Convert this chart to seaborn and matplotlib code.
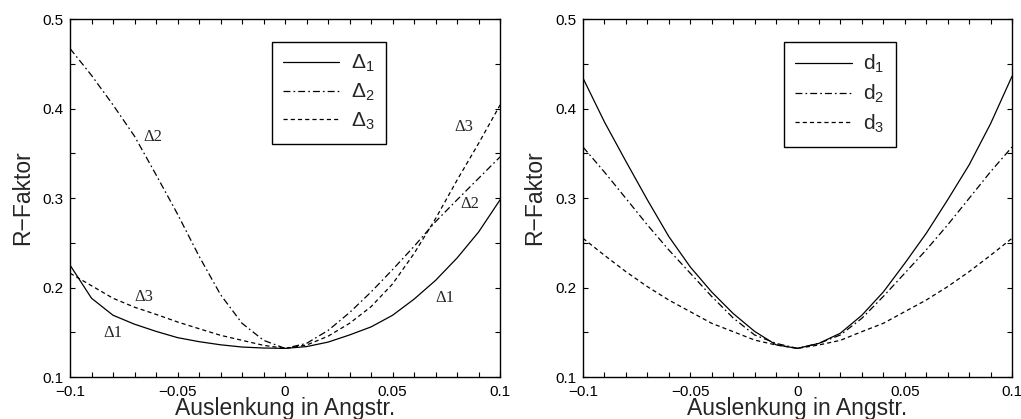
import numpy as np
import pandas as pd
import seaborn as sns
import matplotlib
matplotlib.use("Agg")
import matplotlib.pyplot as plt

# x positions (Angstrom) shared by all curves
x_vals = [-0.1, -0.09, -0.08, -0.07, -0.06, -0.05, -0.04, -0.03, -0.02, -0.01,
          0.0, 0.01, 0.02, 0.03, 0.04, 0.05, 0.06, 0.07, 0.08, 0.09, 0.1]

# left panel: Delta_1..3
delta1 = [0.225, 0.188, 0.169, 0.159, 0.151, 0.144, 0.1395, 0.136, 0.1335, 0.1324,
          0.132, 0.134, 0.139, 0.147, 0.156, 0.169, 0.187, 0.208, 0.233, 0.262, 0.298]
delta2 = [0.467, 0.437, 0.404, 0.369, 0.326, 0.282, 0.235, 0.192, 0.160, 0.141,
          0.132, 0.1376, 0.152, 0.172, 0.195, 0.220, 0.246, 0.2736, 0.298, 0.322, 0.346]
delta3 = [0.216, 0.202, 0.188, 0.178, 0.170, 0.1615, 0.154, 0.1466, 0.141, 0.1354,
          0.132, 0.1357, 0.1456, 0.160, 0.1786, 0.204, 0.238, 0.277, 0.320, 0.361, 0.404]

# right panel: d_1..3
d1 = [0.434, 0.385, 0.341, 0.298, 0.257, 0.223, 0.195, 0.171, 0.151, 0.136,
      0.132, 0.1376, 0.149, 0.169, 0.195, 0.227, 0.2605, 0.298, 0.337, 0.383, 0.436]
d2 = [0.357, 0.329, 0.2996, 0.270, 0.242, 0.216, 0.190, 0.166, 0.147, 0.1376,
      0.132, 0.1376, 0.147, 0.1656, 0.190, 0.216, 0.242, 0.270, 0.2996, 0.3294, 0.357]
d3 = [0.255, 0.236, 0.2177, 0.201, 0.186, 0.173, 0.160, 0.1507, 0.1413, 0.1358,
      0.132, 0.1358, 0.141, 0.1507, 0.160, 0.173, 0.186, 0.201, 0.2177, 0.236, 0.255]

# in-plot labels (text, x, y)
left_notes = [("Δ2", -0.0615, 0.368), ("Δ3", -0.0659, 0.189), ("Δ1", -0.0799, 0.1488),
              ("Δ3", 0.0829, 0.3797), ("Δ2", 0.086, 0.2933), ("Δ1", 0.0744, 0.188)]

sns.set_theme(style="white")
plt.rcParams["font.family"] = ["Liberation Sans", "DejaVu Sans"]
plt.rcParams.update({
    "mathtext.fontset": "custom",
    "mathtext.rm": "Liberation Sans",
    "mathtext.it": "Liberation Sans:italic",
    "lines.scale_dashes": False,
    "xtick.direction": "in", "ytick.direction": "in",
    "xtick.top": True, "ytick.right": True,
    "xtick.bottom": True, "ytick.left": True,
    "axes.edgecolor": "black", "axes.linewidth": 1.0,
    "xtick.color": "black", "ytick.color": "black",
})

styles = ["-", (0, (5, 2.2, 1.2, 2.2)), (0, (3, 2.2))]

fig = plt.figure(figsize=(10.21, 4.19), dpi=100)
ax_l = fig.add_axes([0.0686, 0.1002, 0.4212, 0.8544])
ax_r = fig.add_axes([0.5710, 0.1002, 0.4202, 0.8544])

panels = [
    (ax_l, [delta1, delta2, delta3], ["Δ$_1$", "Δ$_2$", "Δ$_3$"], 0.469),
    (ax_r, [d1, d2, d3], ["d$_1$", "d$_2$", "d$_3$"], 0.4685),
]

for ax, series, labels, lx in panels:
    for vals, lab, ls in zip(series, labels, styles):
        sns.lineplot(x=x_vals, y=vals, ax=ax, color="black", linewidth=0.9,
                     linestyle=ls, label=lab)
    ax.set_xlim(-0.1, 0.1)
    ax.set_ylim(0.1, 0.5)
    ax.set_xticks([-0.1, -0.05, 0, 0.05, 0.1])
    ax.set_xticklabels(["−0.1", "−0.05", "0", "0.05", "0.1"])
    ax.set_yticks([0.1, 0.2, 0.3, 0.4, 0.5])
    ax.set_yticklabels(["0.1", "0.2", "0.3", "0.4", "0.5"])
    ax.set_xticks(np.arange(-0.1, 0.1001, 0.01), minor=True)
    ax.set_yticks(np.arange(0.1, 0.5001, 0.05), minor=True)
    ax.tick_params(which="both", length=3.5, width=0.8, labelsize=11)
    ax.tick_params(axis="x", pad=5.5)
    ax.tick_params(axis="y", pad=5)
    ax.set_xlabel("Auslenkung in Angstr.", fontsize=16.5, labelpad=-1)
    ax.set_ylabel("R−Faktor", fontsize=16.5, labelpad=6)
    leg = ax.legend(loc="upper left", bbox_to_anchor=(lx, 0.9366), borderaxespad=0,
                    fontsize=15, handlelength=2.7, handletextpad=0.55,
                    labelspacing=0.36, borderpad=0.55, fancybox=False, framealpha=1)
    leg.get_frame().set_edgecolor("black")
    leg.get_frame().set_linewidth(1.0)

for txt, tx, ty in left_notes:
    ax_l.text(tx, ty, txt, fontsize=12, family="Liberation Serif",
              ha="center", va="center")

fig.savefig("out.png", dpi=100)
